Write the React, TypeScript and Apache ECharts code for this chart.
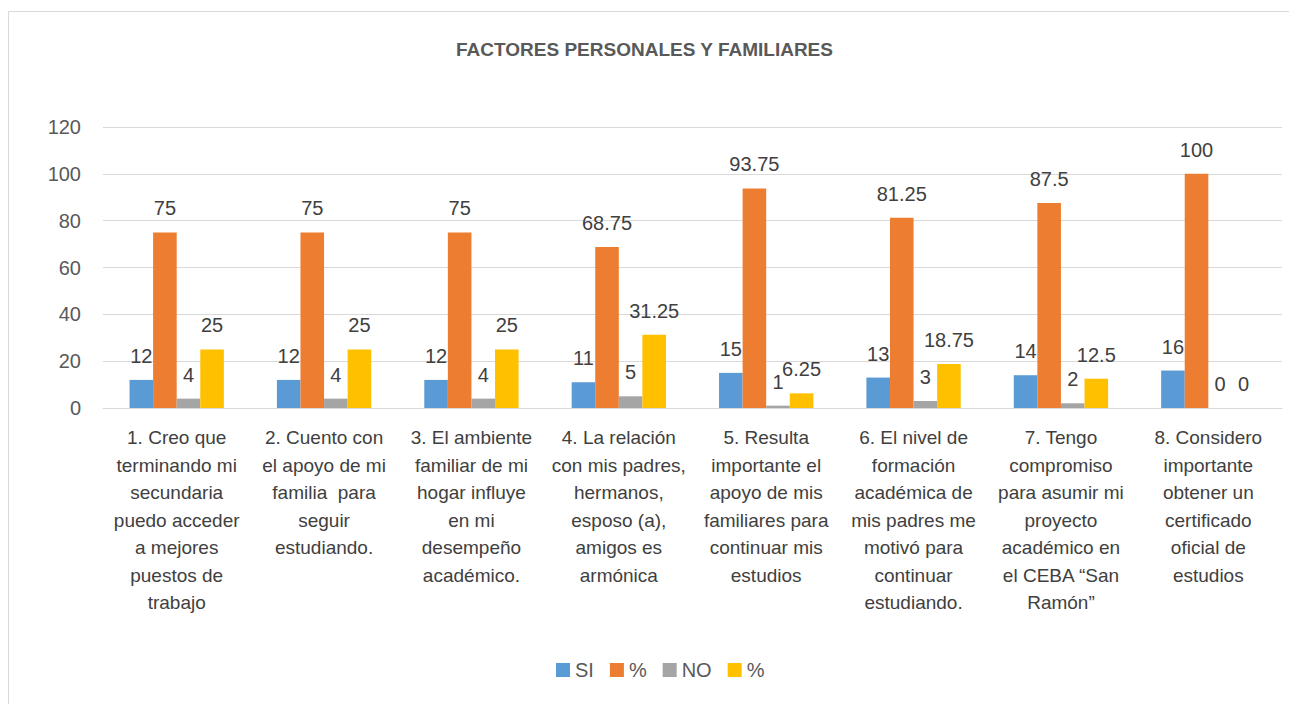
import React, { useEffect, useRef } from "react";
import * as echarts from "echarts";

const categories = [
  "1. Creo que\nterminando mi\nsecundaria\npuedo acceder\na mejores\npuestos de\ntrabajo",
  "2. Cuento con\nel apoyo de mi\nfamilia  para\nseguir\nestudiando.",
  "3. El ambiente\nfamiliar de mi\nhogar influye\nen mi\ndesempeño\nacadémico.",
  "4. La relación\ncon mis padres,\nhermanos,\nesposo (a),\namigos es\narmónica",
  "5. Resulta\nimportante el\napoyo de mis\nfamiliares para\ncontinuar mis\nestudios",
  "6. El nivel de\nformación\nacadémica de\nmis padres me\nmotivó para\ncontinuar\nestudiando.",
  "7. Tengo\ncompromiso\npara asumir mi\nproyecto\nacadémico en\nel CEBA “San\nRamón”",
  "8. Considero\nimportante\nobtener un\ncertificado\noficial de\nestudios",
];

const siValues = [12, 12, 12, 11, 15, 13, 14, 16];
const siPct = [75, 75, 75, 68.75, 93.75, 81.25, 87.5, 100];
const noValues = [4, 4, 4, 5, 1, 3, 2, 0];
const noPct = [25, 25, 25, 31.25, 6.25, 18.75, 12.5, 0];

const seriesNames = ["SI", "%", "NO", "% "];
const colors = ["#5B9BD5", "#ED7D31", "#A5A5A5", "#FFC000"];
const yTicks = { min: 0, max: 120, interval: 20 };

const FONT = "'Liberation Sans', Arial, sans-serif";

export default function App() {
  const ref = useRef<HTMLDivElement>(null);
  useEffect(() => {
    if (!ref.current) return;
    const chart = echarts.init(ref.current, null, { renderer: "svg" });
    const datas = [siValues, siPct, noValues, noPct];
    chart.setOption({
      animation: false,
      backgroundColor: "#ffffff",
      textStyle: { fontFamily: FONT },
      graphic: [
        {
          type: "rect",
          shape: { x: 8.5, y: 11.5, width: 1300, height: 720 },
          style: { fill: "none", stroke: "#d9d9d9", lineWidth: 1 },
          silent: true,
        },
      ],
      title: {
        text: "FACTORES PERSONALES Y FAMILIARES",
        left: "center",
        top: 35,
        textStyle: { fontFamily: FONT, fontSize: 19, fontWeight: "bold", color: "#595959" },
      },
      legend: {
        data: seriesNames.map((n, i) => ({ name: n, itemStyle: { color: colors[i] } })),
        top: 655,
        left: 551,
        itemWidth: 14,
        itemHeight: 14,
        itemGap: 16,
        icon: "rect",
        formatter: (n: string) => n.trim(),
        textStyle: { fontFamily: FONT, fontSize: 20, color: "#595959" },
      },
      grid: { left: 103, right: 7, top: 127, bottom: 296, containLabel: false },
      xAxis: {
        type: "category",
        data: categories,
        axisLine: { lineStyle: { color: "#d9d9d9", width: 1 } },
        axisTick: { show: false },
        axisLabel: {
          interval: 0,
          margin: 16,
          fontFamily: FONT,
          fontSize: 19,
          lineHeight: 27.5,
          color: "#404040",
        },
      },
      yAxis: {
        type: "value",
        min: yTicks.min,
        max: yTicks.max,
        interval: yTicks.interval,
        axisLine: { show: false },
        axisTick: { show: false },
        splitLine: { lineStyle: { color: "#d9d9d9", width: 1 } },
        axisLabel: { margin: 22, fontFamily: FONT, fontSize: 20, color: "#595959" },
      },
      series: seriesNames.map((n, i) => ({
        name: n,
        type: "bar",
        data: datas[i],
        barGap: "0%",
        barCategoryGap: "36%",
        itemStyle: { color: colors[i] },
        label: {
          show: true,
          position: "top",
          distance: 14,
          fontFamily: FONT,
          fontSize: 20,
          color: "#404040",
        },
      })),
    });
    return () => chart.dispose();
  }, []);
  return (
    <div
      ref={ref}
      style={{ position: "fixed", left: 0, top: 0, width: 1289, height: 704 }}
    />
  );
}
